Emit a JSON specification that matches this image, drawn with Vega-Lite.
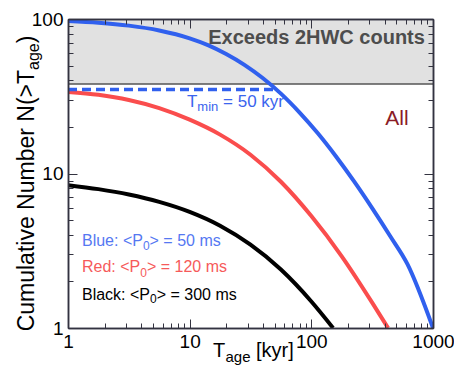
{
  "$schema": "https://vega.github.io/schema/vega-lite/v6.json",
  "width": 365,
  "height": 309,
  "autosize": "none",
  "padding": {"left": 68, "top": 19, "right": 21, "bottom": 38},
  "background": "white",
  "config": {
    "view": {"stroke": null},
    "font": "Liberation Sans",
    "axis": {
      "grid": false,
      "domainColor": "#333340",
      "domainWidth": 1.5,
      "tickColor": "#333340",
      "tickWidth": 1,
      "labelFont": "Liberation Sans",
      "labelFontSize": 19,
      "labelColor": "#000000",
      "labelOverlap": false,
      "labelBound": false,
      "labelFlush": false,
      "title": null,
      "zindex": 2
    }
  },
  "resolve": {"axis": {"x": "independent", "y": "independent"}},
  "layer": [
    {
      "data": {"values": [{"x": 1, "x2": 1000, "y": 38, "y2": 100}]},
      "mark": {"type": "rect", "fill": "#e1e1e1"},
      "encoding": {
        "x": {"field": "x", "type": "quantitative", "scale": {"type": "log", "domain": [1, 1000], "nice": false}, "axis": null},
        "x2": {"field": "x2"},
        "y": {"field": "y", "type": "quantitative", "scale": {"type": "log", "domain": [1, 100], "nice": false}, "axis": null},
        "y2": {"field": "y2"}
      }
    },
    {
      "data": {"values": [{"y": 38}]},
      "mark": {"type": "rule", "stroke": "#555555", "strokeWidth": 1.5},
      "encoding": {
        "y": {"field": "y", "type": "quantitative", "scale": {"type": "log", "domain": [1, 100], "nice": false}, "axis": null}
      }
    },
    {
      "data": {"values": [
        {"series": "Blue", "x": 1, "y": 97.0}, {"series": "Blue", "x": 1.778, "y": 94.6}, {"series": "Blue", "x": 3.162, "y": 90.6},
        {"series": "Blue", "x": 5.623, "y": 84.3}, {"series": "Blue", "x": 10, "y": 75.0}, {"series": "Blue", "x": 14.13, "y": 67.8},
        {"series": "Blue", "x": 19.95, "y": 59.4}, {"series": "Blue", "x": 28.18, "y": 50.5}, {"series": "Blue", "x": 39.81, "y": 41.5},
        {"series": "Blue", "x": 56.23, "y": 32.9}, {"series": "Blue", "x": 79.43, "y": 25.0}, {"series": "Blue", "x": 112.2, "y": 18.35},
        {"series": "Blue", "x": 158.5, "y": 12.99}, {"series": "Blue", "x": 223.9, "y": 8.92}, {"series": "Blue", "x": 316.2, "y": 5.97},
        {"series": "Blue", "x": 446.7, "y": 3.91}, {"series": "Blue", "x": 616.6, "y": 2.59}, {"series": "Blue", "x": 1000, "y": 1},
        {"series": "Red", "x": 1, "y": 33.7}, {"series": "Red", "x": 1.778, "y": 32.3}, {"series": "Red", "x": 3.162, "y": 29.9},
        {"series": "Red", "x": 5.623, "y": 26.5}, {"series": "Red", "x": 10, "y": 22.3}, {"series": "Red", "x": 17.78, "y": 17.85},
        {"series": "Red", "x": 31.62, "y": 13.23}, {"series": "Red", "x": 56.23, "y": 8.84}, {"series": "Red", "x": 100, "y": 5.3},
        {"series": "Red", "x": 177.8, "y": 2.91}, {"series": "Red", "x": 316.2, "y": 1.46}, {"series": "Red", "x": 427, "y": 1},
        {"series": "Black", "x": 1, "y": 8.41}, {"series": "Black", "x": 1.778, "y": 7.92}, {"series": "Black", "x": 3.162, "y": 7.31},
        {"series": "Black", "x": 5.623, "y": 6.55}, {"series": "Black", "x": 10, "y": 5.64}, {"series": "Black", "x": 17.78, "y": 4.59},
        {"series": "Black", "x": 31.62, "y": 3.46}, {"series": "Black", "x": 56.23, "y": 2.39}, {"series": "Black", "x": 100, "y": 1.485},
        {"series": "Black", "x": 151, "y": 1}
      ]},
      "mark": {"type": "line", "strokeWidth": 4, "interpolate": "monotone", "clip": true},
      "encoding": {
        "x": {"field": "x", "type": "quantitative", "scale": {"type": "log", "domain": [1, 1000], "nice": false},
          "axis": {"orient": "bottom", "format": "d", "labelPadding": 13, "values": [1, 10, 100, 1000], "tickSize": -9, "zindex": 2}},
        "y": {"field": "y", "type": "quantitative", "scale": {"type": "log", "domain": [1, 100], "nice": false},
          "axis": {"orient": "left", "format": "d", "labelPadding": 14, "values": [1, 10, 100], "tickSize": -9, "zindex": 2}},
        "stroke": {"field": "series", "type": "nominal", "scale": {"domain": ["Blue", "Red", "Black"], "range": ["#3060ee", "#fa4d4d", "#000000"]}, "legend": null},
        "detail": {"field": "series"}
      }
    },
    {
      "data": {"values": [{"x": 1, "x2": 50, "y": 35}]},
      "mark": {"type": "rule", "stroke": "#3060ee", "strokeWidth": 3.5, "strokeDash": [9, 5]},
      "encoding": {
        "x": {"field": "x", "type": "quantitative", "scale": {"type": "log", "domain": [1, 1000], "nice": false},
          "axis": {"orient": "bottom", "labels": false, "values": [2,3,4,5,6,7,8,9,20,30,40,50,60,70,80,90,200,300,400,500,600,700,800,900], "tickSize": -5, "zindex": 2}},
        "x2": {"field": "x2"},
        "y": {"field": "y", "type": "quantitative", "scale": {"type": "log", "domain": [1, 100], "nice": false},
          "axis": {"orient": "left", "labels": false, "values": [2,3,4,5,6,7,8,9,20,30,40,50,60,70,80,90], "tickSize": -5, "zindex": 2}}
      }
    },
    {
      "data": {"values": [{"text": "All", "x": 505, "y": 20.6}]},
      "mark": {"type": "text", "align": "center", "baseline": "alphabetic", "fontSize": 21, "fill": "#8b1c26"},
      "encoding": {
        "x": {"field": "x", "type": "quantitative", "scale": {"type": "log", "domain": [1, 1000], "nice": false},
          "axis": {"orient": "top", "labels": false, "values": [2,3,4,5,6,7,8,9,20,30,40,50,60,70,80,90,200,300,400,500,600,700,800,900], "tickSize": -5, "zindex": 2}},
        "y": {"field": "y", "type": "quantitative", "scale": {"type": "log", "domain": [1, 100], "nice": false},
          "axis": {"orient": "right", "labels": false, "values": [2,3,4,5,6,7,8,9,20,30,40,50,60,70,80,90], "tickSize": -5, "zindex": 2}},
        "text": {"field": "text"}
      }
    },
    {
      "data": {"values": [{"text": "Exceeds 2HWC counts", "x": 858, "y": 68.9}]},
      "mark": {"type": "text", "align": "right", "baseline": "alphabetic", "fontSize": 20, "fontWeight": "bold", "fill": "#4d4d4d"},
      "encoding": {
        "x": {"field": "x", "type": "quantitative", "scale": {"type": "log", "domain": [1, 1000], "nice": false},
          "axis": {"orient": "top", "labels": false, "values": [1, 10, 100, 1000], "tickSize": -9, "zindex": 2}},
        "y": {"field": "y", "type": "quantitative", "scale": {"type": "log", "domain": [1, 100], "nice": false},
          "axis": {"orient": "right", "labels": false, "values": [1, 10, 100], "tickSize": -9, "zindex": 2}},
        "text": {"field": "text"}
      }
    },
    {
      "data": {"values": [{"text": "T", "x": 9.5, "y": 26.94}, {"text": "= 50 kyr", "x": 18.81, "y": 26.94}]},
      "mark": {"type": "text", "align": "left", "baseline": "alphabetic", "fontSize": 17, "fill": "#3a64ee"},
      "encoding": {
        "x": {"field": "x", "type": "quantitative", "scale": {"type": "log", "domain": [1, 1000], "nice": false}, "axis": null},
        "y": {"field": "y", "type": "quantitative", "scale": {"type": "log", "domain": [1, 100], "nice": false}, "axis": null},
        "text": {"field": "text"}
      }
    },
    {
      "data": {"values": [{"text": "min", "x": 11.57, "y": 25.57}]},
      "mark": {"type": "text", "align": "left", "baseline": "alphabetic", "fontSize": 13, "fill": "#3a64ee"},
      "encoding": {
        "x": {"field": "x", "type": "quantitative", "scale": {"type": "log", "domain": [1, 1000], "nice": false}, "axis": null},
        "y": {"field": "y", "type": "quantitative", "scale": {"type": "log", "domain": [1, 100], "nice": false}, "axis": null},
        "text": {"field": "text"}
      }
    },
    {
      "data": {"values": [
        {"series": "Blue", "text": "Blue: <P", "x": 1.303, "y": 3.37}, {"series": "Blue", "text": "> = 50 ms", "x": 4.683, "y": 3.37},
        {"series": "Red", "text": "Red: <P", "x": 1.303, "y": 2.287}, {"series": "Red", "text": "> = 120 ms", "x": 4.452, "y": 2.287},
        {"series": "Black", "text": "Black: <P", "x": 1.303, "y": 1.529}, {"series": "Black", "text": "> = 300 ms", "x": 5.356, "y": 1.529}
      ]},
      "mark": {"type": "text", "align": "left", "baseline": "alphabetic", "fontSize": 16},
      "encoding": {
        "x": {"field": "x", "type": "quantitative", "scale": {"type": "log", "domain": [1, 1000], "nice": false}, "axis": null},
        "y": {"field": "y", "type": "quantitative", "scale": {"type": "log", "domain": [1, 100], "nice": false}, "axis": null},
        "text": {"field": "text"},
        "fill": {"field": "series", "type": "nominal", "scale": {"domain": ["Blue", "Red", "Black"], "range": ["#5578f2", "#f65a5a", "#000000"]}, "legend": null}
      }
    },
    {
      "data": {"values": [
        {"series": "Blue", "text": "0", "x": 4.128, "y": 3.175},
        {"series": "Red", "text": "0", "x": 3.925, "y": 2.154},
        {"series": "Black", "text": "0", "x": 4.721, "y": 1.441}
      ]},
      "mark": {"type": "text", "align": "left", "baseline": "alphabetic", "fontSize": 12},
      "encoding": {
        "x": {"field": "x", "type": "quantitative", "scale": {"type": "log", "domain": [1, 1000], "nice": false}, "axis": null},
        "y": {"field": "y", "type": "quantitative", "scale": {"type": "log", "domain": [1, 100], "nice": false}, "axis": null},
        "text": {"field": "text"},
        "fill": {"field": "series", "type": "nominal", "scale": {"domain": ["Blue", "Red", "Black"], "range": ["#5578f2", "#f65a5a", "#000000"]}, "legend": null}
      }
    },
    {
      "data": {"values": [{"text": "T", "x": 15.54, "y": 0.649}, {"text": "[kyr]", "x": 35.1, "y": 0.649}]},
      "mark": {"type": "text", "align": "left", "baseline": "alphabetic", "fontSize": 20, "fill": "#000000"},
      "encoding": {
        "x": {"field": "x", "type": "quantitative", "scale": {"type": "log", "domain": [1, 1000], "nice": false}, "axis": null},
        "y": {"field": "y", "type": "quantitative", "scale": {"type": "log", "domain": [1, 100], "nice": false}, "axis": null},
        "text": {"field": "text"}
      }
    },
    {
      "data": {"values": [{"text": "age", "x": 19.69, "y": 0.602}]},
      "mark": {"type": "text", "align": "left", "baseline": "alphabetic", "fontSize": 15, "fill": "#000000"},
      "encoding": {
        "x": {"field": "x", "type": "quantitative", "scale": {"type": "log", "domain": [1, 1000], "nice": false}, "axis": null},
        "y": {"field": "y", "type": "quantitative", "scale": {"type": "log", "domain": [1, 100], "nice": false}, "axis": null},
        "text": {"field": "text"}
      }
    },
    {
      "data": {"values": [{"text": "Cumulative Number N(>T", "x": 0.5255, "y": 46.8}]},
      "mark": {"type": "text", "align": "right", "baseline": "alphabetic", "angle": 270, "fontSize": 23, "fill": "#000000"},
      "encoding": {
        "x": {"field": "x", "type": "quantitative", "scale": {"type": "log", "domain": [1, 1000], "nice": false}, "axis": null},
        "y": {"field": "y", "type": "quantitative", "scale": {"type": "log", "domain": [1, 100], "nice": false}, "axis": null},
        "text": {"field": "text"}
      }
    },
    {
      "data": {"values": [{"text": "age", "x": 0.578, "y": 46.8}]},
      "mark": {"type": "text", "align": "left", "baseline": "alphabetic", "angle": 270, "fontSize": 16, "fill": "#000000"},
      "encoding": {
        "x": {"field": "x", "type": "quantitative", "scale": {"type": "log", "domain": [1, 1000], "nice": false}, "axis": null},
        "y": {"field": "y", "type": "quantitative", "scale": {"type": "log", "domain": [1, 100], "nice": false}, "axis": null},
        "text": {"field": "text"}
      }
    },
    {
      "data": {"values": [{"text": ")", "x": 0.5255, "y": 69.6}]},
      "mark": {"type": "text", "align": "left", "baseline": "alphabetic", "angle": 270, "fontSize": 23, "fill": "#000000"},
      "encoding": {
        "x": {"field": "x", "type": "quantitative", "scale": {"type": "log", "domain": [1, 1000], "nice": false}, "axis": null},
        "y": {"field": "y", "type": "quantitative", "scale": {"type": "log", "domain": [1, 100], "nice": false}, "axis": null},
        "text": {"field": "text"}
      }
    }
  ]
}
